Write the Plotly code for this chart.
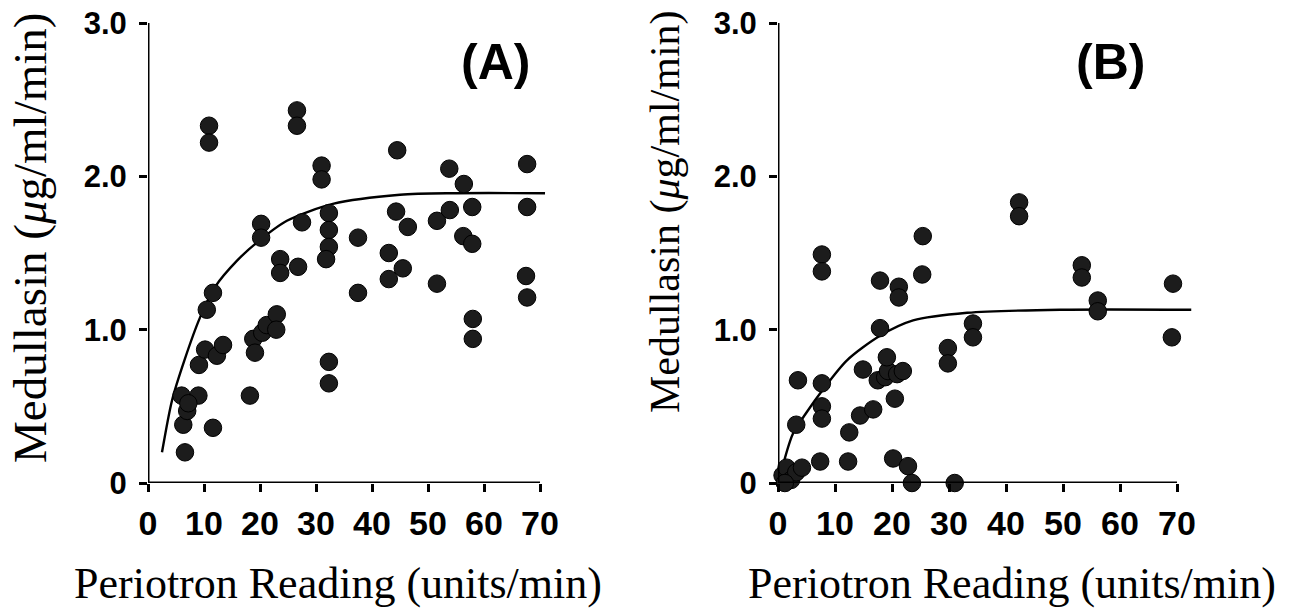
import plotly.graph_objects as go

# ---------------- data ----------------
a_x = [6.6, 6.3, 7.0, 6.0, 9.0, 7.2, 11.6, 9.1, 10.2, 12.3, 13.4, 10.5, 11.6, 10.9, 10.9,
       18.2, 18.8, 19.1, 20.4, 21.2, 23.0, 22.9, 20.2, 20.2, 23.6, 23.6, 26.8, 27.5, 26.6, 26.6,
       31.0, 31.0, 32.3, 32.3, 32.3, 31.8, 32.3, 32.3, 37.5, 37.5, 43.0, 43.0, 45.5, 44.3, 44.5,
       46.4, 51.6, 51.6, 53.8, 53.9, 56.4, 56.3, 57.9, 57.9, 58.0, 58.0, 67.7, 67.7, 67.5, 67.7]
a_y = [0.20, 0.38, 0.47, 0.57, 0.57, 0.52, 0.36, 0.77, 0.87, 0.83, 0.90, 1.13, 1.24, 2.33, 2.22,
       0.57, 0.94, 0.85, 0.98, 1.03, 1.10, 1.00, 1.69, 1.60, 1.46, 1.37, 1.41, 1.70, 2.43, 2.33,
       2.07, 1.98, 1.76, 1.65, 1.54, 1.46, 0.79, 0.65, 1.60, 1.24, 1.50, 1.33, 1.40, 1.77, 2.17,
       1.67, 1.71, 1.30, 2.05, 1.78, 1.95, 1.61, 1.56, 1.80, 1.07, 0.94, 2.08, 1.80, 1.35, 1.21]

a_fit_x = [2.5, 4.3, 6.5, 9.3, 12.0, 15.9, 19.5, 24.8, 33.0, 45.0, 55.0, 70.9]
a_fit_y = [0.20, 0.54, 0.80, 1.08, 1.28, 1.45, 1.57, 1.71, 1.82, 1.88, 1.89, 1.89]

b_x = [0.8, 1.5, 2.3, 3.2, 4.2, 1.2,
       3.5, 3.2, 7.7, 7.7, 7.7, 7.4, 7.7, 7.7, 12.5, 12.3, 14.4, 16.7, 14.9, 17.5,
       18.8, 19.3, 19.1, 20.9, 21.9, 17.9, 17.9, 20.5, 20.2, 22.8, 23.5, 21.2, 21.2,
       25.3, 25.4, 29.8, 29.8, 31.0, 34.2, 34.2, 42.3, 42.3, 53.3, 53.3, 56.1, 56.1,
       69.3, 69.1]
b_y = [0.05, 0.10, 0.02, 0.07, 0.10, 0.00,
       0.67, 0.38, 0.65, 0.50, 0.42, 0.14, 1.49, 1.38, 0.33, 0.14, 0.44, 0.48, 0.74, 0.67,
       0.69, 0.73, 0.82, 0.71, 0.73, 1.01, 1.32, 0.55, 0.16, 0.11, 0.00, 1.28, 1.21,
       1.36, 1.61, 0.88, 0.78, 0.00, 1.04, 0.95, 1.83, 1.74, 1.42, 1.34, 1.19, 1.12,
       1.30, 0.95]

b_fit_x = [0.9, 2.6, 5.0, 7.7, 12.1, 17.9, 23.7, 33.2, 49.5, 72.5]
b_fit_y = [0.12, 0.32, 0.46, 0.60, 0.80, 0.96, 1.06, 1.11, 1.13, 1.13]

x_ticks = [0, 10, 20, 30, 40, 50, 60, 70]
y_ticks = [0, 1, 2, 3]
y_tick_text = ["0", "1.0", "2.0", "3.0"]

y_title = "Medullasin (<i>μ</i>g/ml/min)"
x_title = "Periotron Reading (units/min)"
panel_labels = ["(A)", "(B)"]

# ---------------- figure ----------------
W, H = 1302, 613
BOLD = "Liberation Sans Narrow, Liberation Sans, Arial, sans-serif"
SERIF = "Liberation Serif, Times New Roman, serif"
DOT = "#1c1c1c"

fig = go.Figure()
for xs, ys, fx, fy, ax in [(a_x, a_y, a_fit_x, a_fit_y, "x"),
                           (b_x, b_y, b_fit_x, b_fit_y, "x2")]:
    yax = "y" if ax == "x" else "y2"
    fig.add_trace(go.Scatter(x=fx, y=fy, mode="lines", xaxis=ax, yaxis=yax,
                             line=dict(color="black", width=2.4, shape="spline", smoothing=0.8),
                             hoverinfo="skip", showlegend=False))
    fig.add_trace(go.Scatter(x=xs, y=ys, mode="markers", xaxis=ax, yaxis=yax, cliponaxis=False,
                             marker=dict(size=17.5, color=DOT, line=dict(color="black", width=1)),
                             showlegend=False))

XMAX = 73
# pixel geometry: A: 0 -> 148px, 70 -> 540px ; B: 0 -> 778px, 70 -> 1177px
a_l, a_r = 148, 148 + (540 - 148) * XMAX / 70
b_l, b_r = 778, 778 + (1177 - 778) * XMAX / 70
y_bot, y_top = (H - 483) / H, (H - 23) / H

common_x = dict(range=[0, XMAX], tickvals=x_ticks, ticks="outside", ticklen=8, tickwidth=2.5,
                tickcolor="black", showline=False, showgrid=False, zeroline=False,
                automargin=False,
                tickfont=dict(family=BOLD, size=34, color="black", weight="bold"),
                ticklabelstandoff=2)
common_y = dict(range=[0, 3], tickvals=y_ticks, ticktext=y_tick_text, ticks="outside", ticklen=8,
                tickwidth=2.5, tickcolor="black", showline=False, showgrid=False, zeroline=False,
                automargin=False,
                tickfont=dict(family=BOLD, size=31, color="black", weight="bold"),
                domain=[y_bot, y_top], ticklabelstandoff=6)

fig.update_layout(
    width=W, height=H, margin=dict(l=0, r=0, t=0, b=0, autoexpand=False),
    paper_bgcolor="white", plot_bgcolor="white",
    xaxis=dict(domain=[a_l / W, a_r / W], anchor="y", **common_x),
    yaxis=dict(anchor="x", **common_y),
    xaxis2=dict(domain=[b_l / W, b_r / W], anchor="y2", **common_x),
    yaxis2=dict(anchor="x2", **common_y),
)

# axis lines (0..70 and 0..3) drawn in data coordinates
for xr, yr in [("x", "y"), ("x2", "y2")]:
    fig.add_shape(type="line", xref=xr, yref=yr, x0=0, x1=x_ticks[-1], y0=0, y1=0,
                  line=dict(color="black", width=3))
    fig.add_shape(type="line", xref=xr, yref=yr, x0=0, x1=0, y0=0, y1=y_ticks[-1],
                  line=dict(color="black", width=3))

# axis titles and panel labels
ann = []
ann.append(dict(text=y_title, x=30 / W, y=1 - 238 / H, textangle=-90,
                font=dict(family=SERIF, size=47, color="black")))
ann.append(dict(text=y_title, x=665 / W, y=1 - 212 / H, textangle=-90,
                font=dict(family=SERIF, size=42, color="black")))
ann.append(dict(text=x_title, x=338 / W, y=1 - 583 / H,
                font=dict(family=SERIF, size=44, color="black")))
ann.append(dict(text=x_title, x=1012 / W, y=1 - 583 / H,
                font=dict(family=SERIF, size=44, color="black")))
ann.append(dict(text=panel_labels[0], x=495 / W, y=1 - 62 / H,
                font=dict(family=BOLD, size=50, color="black", weight="bold")))
ann.append(dict(text=panel_labels[1], x=1110 / W, y=1 - 62 / H,
                font=dict(family=BOLD, size=50, color="black", weight="bold")))
for a in ann:
    a.update(xref="paper", yref="paper", showarrow=False, xanchor="center", yanchor="middle")
fig.update_layout(annotations=ann)

fig.write_html("out.html")
